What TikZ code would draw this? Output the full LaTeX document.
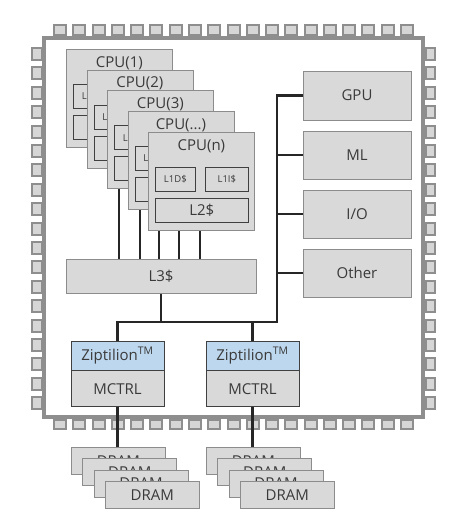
\documentclass[tikz,border=0pt]{standalone}
\usepackage{fontspec}
\setmainfont{Open Sans}
\usetikzlibrary{calc}
\definecolor{boxfill}{HTML}{D9D9D9}
\definecolor{boxline}{HTML}{8C8C8C}
\definecolor{chipgray}{HTML}{8E8E8E}
\definecolor{pinfill}{HTML}{D6D6D6}
\definecolor{txt}{HTML}{3A3A3A}
\definecolor{wirec}{HTML}{262626}
\definecolor{zipblue}{HTML}{BDD7EE}
\definecolor{dkline}{HTML}{404040}
\pgfdeclarelayer{back}
\pgfdeclarelayer{wires}
\pgfsetlayers{back,wires,main}
\newcommand\lblfont{\fontsize{15}{18}\selectfont}
\newcommand\smallfont{\fontsize{9.5}{11}\selectfont}
\tikzset{
  box/.style={draw=boxline, fill=boxfill, line width=0.8pt, inner sep=0pt, text=txt, font=\lblfont},
  cpubox/.style={box, minimum width=106pt, minimum height=98pt},
  inbox/.style={draw=dkline, fill=boxfill, line width=0.7pt, inner sep=0pt, text=txt, font=\smallfont, minimum height=24pt},
  sidebox/.style={box, minimum width=108pt},
  zipbox/.style={draw=dkline, fill=zipblue, line width=0.8pt, inner sep=0pt, text=txt, font=\lblfont, minimum width=93pt, minimum height=29pt},
  mcbox/.style={draw=dkline, fill=boxfill, line width=0.8pt, inner sep=0pt, text=txt, font=\lblfont, minimum width=93pt, minimum height=36pt},
  drambox/.style={box, minimum width=94pt, minimum height=27pt, anchor=north west},
  lbl/.style={inner sep=0pt, text=txt, font=\lblfont},
  pinbox/.style={draw=chipgray, fill=pinfill, line width=2pt},
  wire/.style={draw=wirec, line width=2.2pt},
}
\newcommand\cpuunit[4]{%
  \node[cpubox, anchor=north west] (#1) at (#2,#3) {};
  \node[lbl] (#1-t) at ($(#1.north)+(0,14)$) {CPU(#4)};
  \node[inbox, minimum width=40pt, anchor=north west] (#1-d) at ($(#1.north west)+(7,35)$) {L1D\$};
  \node[inbox, minimum width=43pt, anchor=north west] (#1-i) at ($(#1.north west)+(57,35)$) {L1I\$};
  \node[inbox, minimum width=93pt, anchor=north west, font=\lblfont] (#1-l) at ($(#1.north west)+(7,66)$) {L2\$};
}
\newcommand\dramstack[3]{%
  \foreach \k in {0,...,3} {
    \node[drambox] (#1\k) at ({#2+11.3*\k},{#3+11.3*\k}) {DRAM};
  }
}
\begin{document}
\begin{tikzpicture}[x=1pt,y=-1pt]
\useasboundingbox (0,0) rectangle (459,519);

% chip frame and pins
\begin{pgfonlayer}{back}
  \foreach \k in {0,...,18} {
    \pgfmathsetmacro\px{53+19.28*\k}
    \pgfmathsetmacro\py{47+19.4*\k}
    \draw[pinbox] (\px+1,25) rectangle (\px+13,35);
    \draw[pinbox] (\px+1,420) rectangle (\px+13,429);
    \draw[pinbox] (32,\py+1) rectangle (42,\py+13);
    \draw[pinbox] (426,\py+1) rectangle (435,\py+13);
  }
  \draw[draw=chipgray, line width=4pt, fill=white] (44,38) rectangle (423,417);
\end{pgfonlayer}

% CPUs
\cpuunit{cpu1}{66}{49}{1}
\cpuunit{cpu2}{86.5}{69.7}{2}
\cpuunit{cpu3}{107}{90.4}{3}
\cpuunit{cpu4}{127.5}{111.1}{...}
\cpuunit{cpu5}{148}{131.8}{n}

% L3
\node[box, minimum width=190pt, minimum height=34pt] (l3) at (161,276) {L3\$};

% side blocks
\node[sidebox, minimum height=49pt] (gpu) at (357,95.5) {GPU};
\node[sidebox, minimum height=48pt] (ml) at (357,155) {ML};
\node[sidebox, minimum height=48pt] (io) at (357,214) {I/O};
\node[sidebox, minimum height=48pt] (other) at (357,273) {Other};

% memory controllers
\node[zipbox] (zip1) at (117.5,355.5) {Ziptilion\textsuperscript{TM}};
\node[mcbox, anchor=north] (mc1) at (zip1.south) {MCTRL};
\node[zipbox] (zip2) at (252.5,355.5) {Ziptilion\textsuperscript{TM}};
\node[mcbox, anchor=north] (mc2) at (zip2.south) {MCTRL};

% DRAM
\dramstack{da}{71}{447}
\dramstack{db}{206}{447}

% wires
\begin{pgfonlayer}{wires}
  \coordinate (busR) at (277,322);
  \draw[wire] (gpu.west) -| (busR) -| (zip1.north);
  \draw[wire] (ml.west) -- (ml.west -| busR);
  \draw[wire] (io.west) -- (io.west -| busR);
  \draw[wire] (other.west) -- (other.west -| busR);
  \draw[wire] (l3.south) -- (l3.south |- busR);
  \draw[wire] (zip2.north) -- (zip2.north |- busR);
  \draw[wire] (mc1.south) -- (mc1.south |- da0.north);
  \draw[wire] (mc2.south) -- (mc2.south |- db0.north);
  \coordinate (t1) at ($(l3.north west)+(53,0)$);
  \coordinate (t2) at ($(l3.north west)+(74,0)$);
  \coordinate (t3) at ($(l3.north west)+(93,0)$);
  \coordinate (t4) at ($(l3.north west)+(113,0)$);
  \coordinate (t5) at ($(l3.north west)+(134,0)$);
  \draw[wire] (t1) -- (t1 |- cpu1.south);
  \draw[wire] (t2) -- (t2 |- cpu2.south);
  \draw[wire] (t3) -- (t3 |- cpu3.south);
  \draw[wire] (t4) -- (t4 |- cpu4.south);
  \draw[wire] (t5) -- (t5 |- cpu5.south);
\end{pgfonlayer}
\end{tikzpicture}
\end{document}
